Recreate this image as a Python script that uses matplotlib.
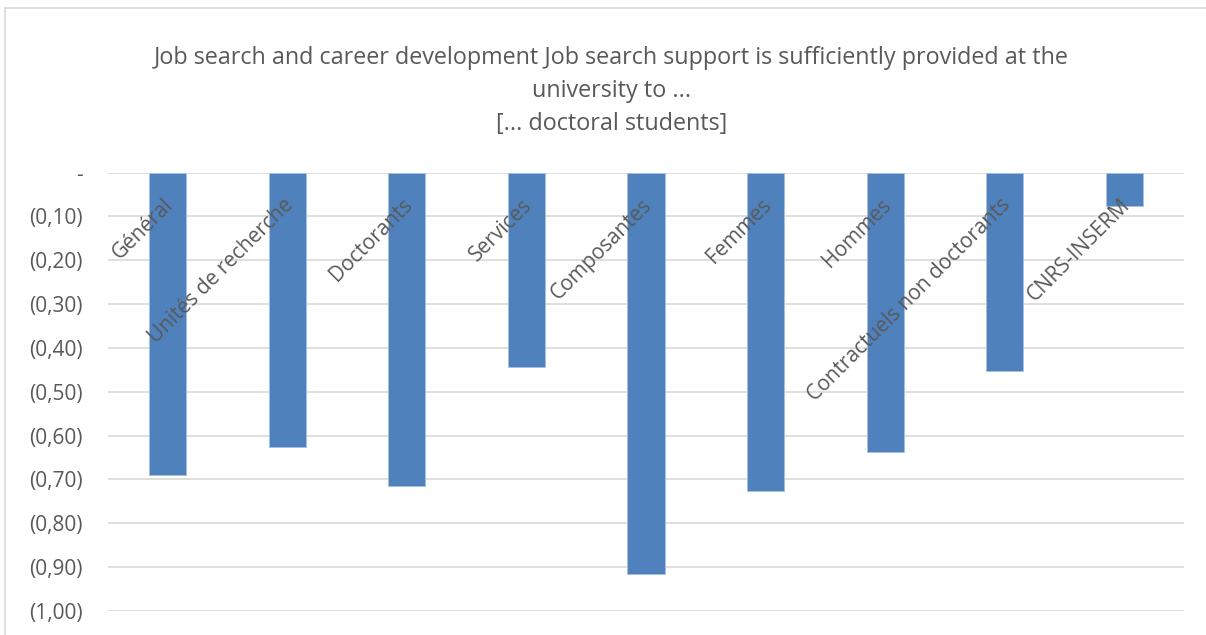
import matplotlib.pyplot as plt
from matplotlib.patches import Rectangle

categories = ["Général", "Unités de recherche", "Doctorants", "Services", "Composantes",
              "Femmes", "Hommes", "Contractuels non doctorants", "CNRS-INSERM"]
values = [-0.689, -0.626, -0.714, -0.444, -0.916, -0.726, -0.638, -0.453, -0.076]
yticks = [0, -0.1, -0.2, -0.3, -0.4, -0.5, -0.6, -0.7, -0.8, -0.9, -1.0]
ytick_labels = ["-", "(0,10)", "(0,20)", "(0,30)", "(0,40)", "(0,50)",
                "(0,60)", "(0,70)", "(0,80)", "(0,90)", "(1,00)"]
title = ("Job search and career development Job search support is sufficiently provided at the\n"
         "university to ...\n[... doctoral students]")

plt.rcParams['font.family'] = ['Open Sans', 'DejaVu Sans']
grey = "#595959"

fig = plt.figure(figsize=(12.06, 6.35), dpi=100)
ax = fig.add_axes([108 / 1206, 1 - 611 / 635, (1184 - 108) / 1206, (611 - 172.5) / 635])

x = list(range(len(categories)))
ax.bar(x, values, width=0.31, color="#4f81bd", edgecolor="#a9c1e0", linewidth=0.6, zorder=3)

ax.set_xlim(-0.5, len(categories) - 0.5)
ax.set_ylim(-1.0, 0)
ax.set_yticks(yticks)
ax.set_yticklabels(ytick_labels, fontsize=15, color=grey)
ax.set_xticks([])
ax.tick_params(axis="y", length=0, pad=18)
ax.grid(axis="y", color="#d9d9d9", linewidth=1.2, zorder=0)
for s in ax.spines.values():
    s.set_visible(False)

# category labels sit at the zero line, rotated
for i, name in enumerate(categories):
    ax.annotate(name, (i, 0), xytext=(-3.5, -16), textcoords="offset points",
                rotation=45, rotation_mode="anchor", ha="right", va="top",
                fontsize=15, color=grey, zorder=4)

fig.text(0.507, 1 - 46 / 635, title, ha="center", va="top", fontsize=16.8,
         color=grey, linespacing=1.49)

# chart border
fig.patches.append(Rectangle((5 / 1206, -0.1), 1.2, 1 - 8 / 635 + 0.1, transform=fig.transFigure,
                             fill=False, edgecolor="#d9d9d9", linewidth=1.2))

fig.savefig("out.png", dpi=100)
